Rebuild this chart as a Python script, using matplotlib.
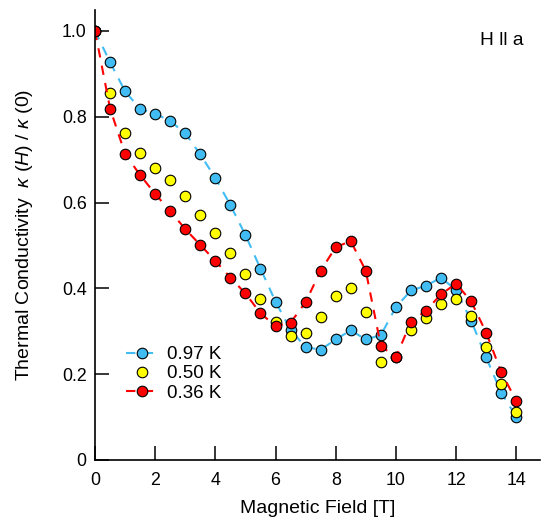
import matplotlib.pyplot as plt
import numpy as np

plt.rcParams['font.family'] = ['Liberation Sans', 'DejaVu Sans']
plt.rcParams['mathtext.fontset'] = 'custom'
plt.rcParams['mathtext.rm'] = 'Liberation Sans'
plt.rcParams['mathtext.it'] = 'Liberation Sans:italic'

# field values (T)
field = np.arange(0, 14.01, 0.5)

# kappa(H)/kappa(0)
k_097 = [1.0, 0.927, 0.859, 0.818, 0.807, 0.790, 0.761, 0.712, 0.657, 0.594,
         0.524, 0.446, 0.369, 0.303, 0.263, 0.257, 0.281, 0.302, 0.281, 0.291,
         0.356, 0.395, 0.406, 0.425, 0.396, 0.325, 0.239, 0.157, 0.101]
k_050 = [1.0, 0.856, 0.763, 0.716, 0.681, 0.652, 0.615, 0.571, 0.528, 0.483,
         0.434, 0.375, 0.322, 0.290, 0.296, 0.333, 0.381, 0.401, 0.344, 0.228,
         0.240, 0.304, 0.330, 0.364, 0.374, 0.336, 0.263, 0.178, 0.112]
k_036 = [1.0, 0.819, 0.713, 0.664, 0.620, 0.580, 0.538, 0.501, 0.464, 0.425,
         0.388, 0.342, 0.312, 0.320, 0.368, 0.441, 0.496, 0.510, 0.441, 0.266,
         0.239, 0.322, 0.348, 0.386, 0.411, 0.370, 0.297, 0.205, 0.138]

labels = ['0.97 K', '0.50 K', '0.36 K']

fig = plt.figure(figsize=(5.43, 5.18), dpi=100)
ax = fig.add_axes([0.175, 0.112, 0.82, 0.869])

mk = dict(marker='o', ms=7.6, mec='black', mew=0.8)
ax.plot(field, k_097, color='#41BDF4', lw=1.5, ls=(0, (4.5, 4)), mfc='#41BDF4', label=labels[0], **mk)
ax.plot(field, k_050, ls='none', mfc='#FFFF00', label=labels[1], **mk)
ax.plot(field, k_036, color='#FF0000', lw=1.5, ls=(0, (4.5, 4)), mfc='#FF0000', label=labels[2], **mk)

ax.set_xlim(0, 14.8)
ax.set_ylim(0, 1.049)
ax.set_xticks(np.arange(0, 15, 2))
ax.set_yticks([0, 0.2, 0.4, 0.6, 0.8, 1.0])
ax.set_yticklabels(['0', '0.2', '0.4', '0.6', '0.8', '1.0'])

for s in ['top', 'right']:
    ax.spines[s].set_visible(False)
for s in ['left', 'bottom']:
    ax.spines[s].set_linewidth(1.2)
ax.tick_params(direction='in', length=10, width=1.1, labelsize=12.8)
ax.tick_params(axis='x', pad=9)
ax.tick_params(axis='y', pad=6)

ax.set_xlabel('Magnetic Field [T]', fontsize=14)
ax.set_ylabel(r'Thermal Conductivity  $\kappa$ ($H$) / $\kappa$ (0)', fontsize=14)
ax.xaxis.set_label_coords(0.5, -0.088)
ax.yaxis.set_label_coords(-0.135, 0.5)

ax.text(0.962, 0.931, 'H ll a', transform=ax.transAxes, ha='right', va='center', fontsize=13.8)

ax.legend(loc='upper left', bbox_to_anchor=(0.052, 0.27), frameon=False, fontsize=13.5,
          handlelength=1.7, handletextpad=0.5, labelspacing=0.12, borderaxespad=0)

fig.savefig('out.png', dpi=100)
